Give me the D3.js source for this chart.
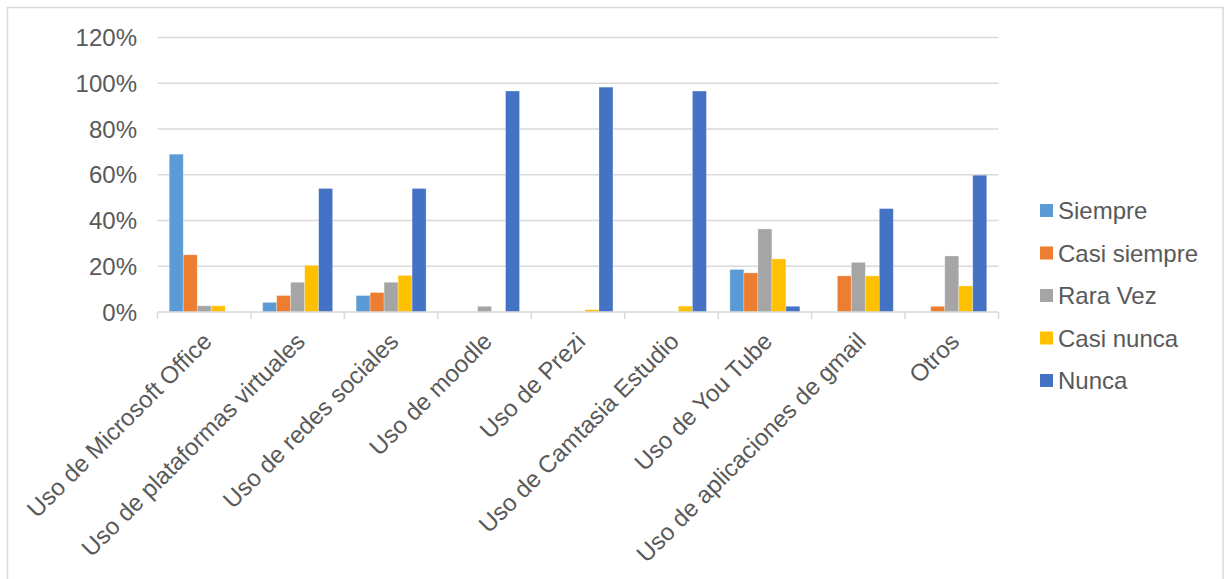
<!DOCTYPE html>
<html><head><meta charset="utf-8">
<script src="https://cdn.jsdelivr.net/npm/d3@7"></script>
<style>body{margin:0;background:#fff}svg{display:block;font-family:"Liberation Sans",Arial,sans-serif}</style>
</head><body><svg id="c" width="1224" height="579"></svg>
<script>
const categories = ["Uso de Microsoft Office","Uso de plataformas virtuales","Uso de redes sociales","Uso de moodle","Uso de Prezi","Uso de Camtasia Estudio","Uso de You Tube","Uso de aplicaciones de gmail","Otros"];
const seriesNames = ["Siempre","Casi siempre","Rara Vez","Casi nunca","Nunca"];
const siempre     = [0.69,0.042,0.072,0,0,0,0.186,0,0];
const casiSiempre = [0.25,0.072,0.085,0,0,0,0.171,0.158,0.025];
const raraVez     = [0.027,0.13,0.13,0.025,0,0,0.363,0.217,0.245];
const casiNunca   = [0.027,0.204,0.16,0,0.01,0.026,0.232,0.158,0.114];
const nunca       = [0,0.54,0.54,0.966,0.983,0.966,0.025,0.452,0.598];
const yTicks = [0,0.2,0.4,0.6,0.8,1.0,1.2];
const colors = ["#5B9BD5","#ED7D31","#A5A5A5","#FFC000","#4472C4"];
const values = [siempre,casiSiempre,raraVez,casiNunca,nunca];
const FS = 24;

const svg = d3.select("#c");
svg.append("rect").attr("x",7.5).attr("y",7.5).attr("width",1215.5).attr("height",600)
  .attr("fill","#fff").attr("stroke","#d9d9d9").attr("stroke-width",1.5);

const x0 = d3.scaleBand().domain(categories).range([157.5,998.5]).paddingInner(0).paddingOuter(0);
const x1 = d3.scaleBand().domain(seriesNames).range([0,x0.bandwidth()]).paddingInner(0).paddingOuter(0.84);
const y = d3.scaleLinear().domain([0,1.2]).range([312,37.5]);

// gridlines
svg.append("g").selectAll("line").data(yTicks.slice(1)).join("line")
  .attr("x1",157.5).attr("x2",998.5).attr("y1",d=>y(d)).attr("y2",d=>y(d))
  .attr("stroke","#d9d9d9").attr("stroke-width",1.5);

// y labels
svg.append("g").selectAll("text").data(yTicks).join("text")
  .attr("x",137).attr("y",d=>y(d)).attr("dy","0.36em").attr("text-anchor","end")
  .attr("fill","#595959").attr("font-size",FS).text(d=>d3.format(".0%")(d));

// bars
const g = svg.append("g");
categories.forEach((c,i)=>{
  seriesNames.forEach((s,j)=>{
    const v = values[j][i];
    if (v<=0) return;
    g.append("rect").attr("x",x0(c)+x1(s)).attr("width",x1.bandwidth())
      .attr("y",y(v)).attr("height",y(0)-y(v)).attr("fill",colors[j])
      .attr("stroke","#fff").attr("stroke-opacity",0.35).attr("stroke-width",0.8);
  });
});

// x axis
const xa = svg.append("g").attr("transform","translate(0,312)");
xa.append("line").attr("x1",157.5).attr("x2",998.5).attr("stroke","#d9d9d9").attr("stroke-width",1.5);
const bounds = categories.map(c=>x0(c)).concat([x0(categories[categories.length-1])+x0.bandwidth()]);
xa.selectAll("line.t").data(bounds).join("line").attr("class","t")
  .attr("x1",d=>d).attr("x2",d=>d).attr("y1",0).attr("y2",7).attr("stroke","#d9d9d9").attr("stroke-width",1.5);
xa.selectAll("text").data(categories).join("text")
  .attr("transform",d=>`translate(${x0(d)+x0.bandwidth()/2-3},${19}) rotate(-45)`)
  .attr("text-anchor","end").attr("dy","0.7em").attr("fill","#595959").attr("font-size",FS).text(d=>d);

// legend
const lg = svg.append("g");
seriesNames.forEach((s,j)=>{
  const cy = 210.5 + j*42.5;
  lg.append("rect").attr("x",1040).attr("y",cy-6.5).attr("width",13).attr("height",13).attr("fill",colors[j]);
  lg.append("text").attr("x",1058).attr("y",cy).attr("dy","0.36em").attr("fill","#595959").attr("font-size",FS).text(s);
});
</script></body></html>
